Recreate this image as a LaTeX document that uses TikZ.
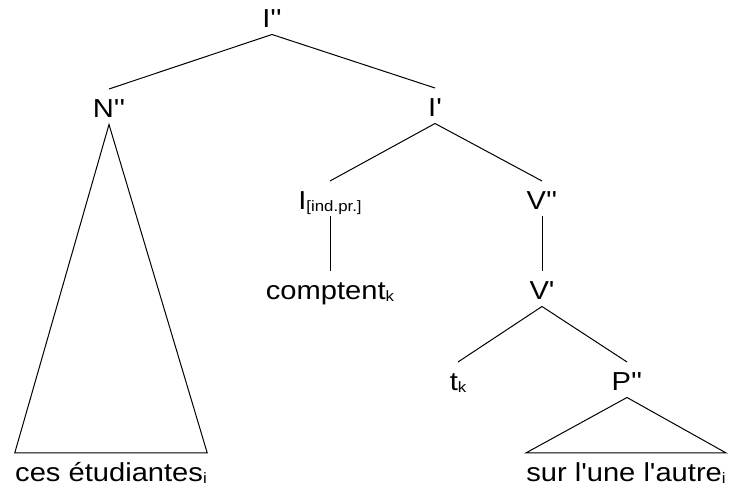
\documentclass[tikz,border=0pt]{standalone}
\usepackage{fontspec}
\setmainfont{Liberation Sans}[FakeStretch=1.12,Ligatures=TeXOff]
\newcommand\lowidx[1]{\raisebox{-1pt}{\fontsize{7.5}{8}\selectfont #1}}

\begin{document}
\begin{tikzpicture}[x=0.5pt,y=-0.5pt,line width=0.5pt,
  cat/.style={inner sep=0pt,anchor=base,text height=14.25pt,text depth=3pt,
    font=\fontsize{13}{15}\selectfont}]
\useasboundingbox (0,0) rectangle (733,490);
\node[cat] (Ipp) at (272,28) {I''};
\node[cat] (Npp) at (109,118) {N''};
\node[cat] (Ip) at (435,117) {I'};
\node[cat] (Iind) at (330,210) {I\lowidx{[ind.pr.]}};
\node[cat] (Vpp) at (542,210) {V''};
\node[cat] (compt) at (330,300) {comptent\lowidx{k}};
\node[cat] (Vp) at (542,300) {V'};
\node[cat] (tk) at (458,391) {t\lowidx{k}};
\node[cat] (Ppp) at (627,391) {P''};
\node[cat] (ces) at (111,482) {ces étudiantes\lowidx{i}};
\node[cat] (sur) at (626,482) {sur l'une l'autre\lowidx{i}};
\draw (Ipp.south) -- (Npp.north);
\draw (Ipp.south) -- (Ip.north);
\draw (Ip.south) -- (Iind.north);
\draw (Ip.south) -- (Vpp.north);
\draw (Iind.south) -- (compt.north);
\draw (Vpp.south) -- (Vp.north);
\draw (Vp.south) -- (tk.north);
\draw (Vp.south) -- (Ppp.north);
\draw (Npp.south) -- (ces.north west) -- (ces.north east) -- cycle;
\draw (Ppp.south) -- (sur.north west) -- (sur.north east) -- cycle;
\end{tikzpicture}
\end{document}
